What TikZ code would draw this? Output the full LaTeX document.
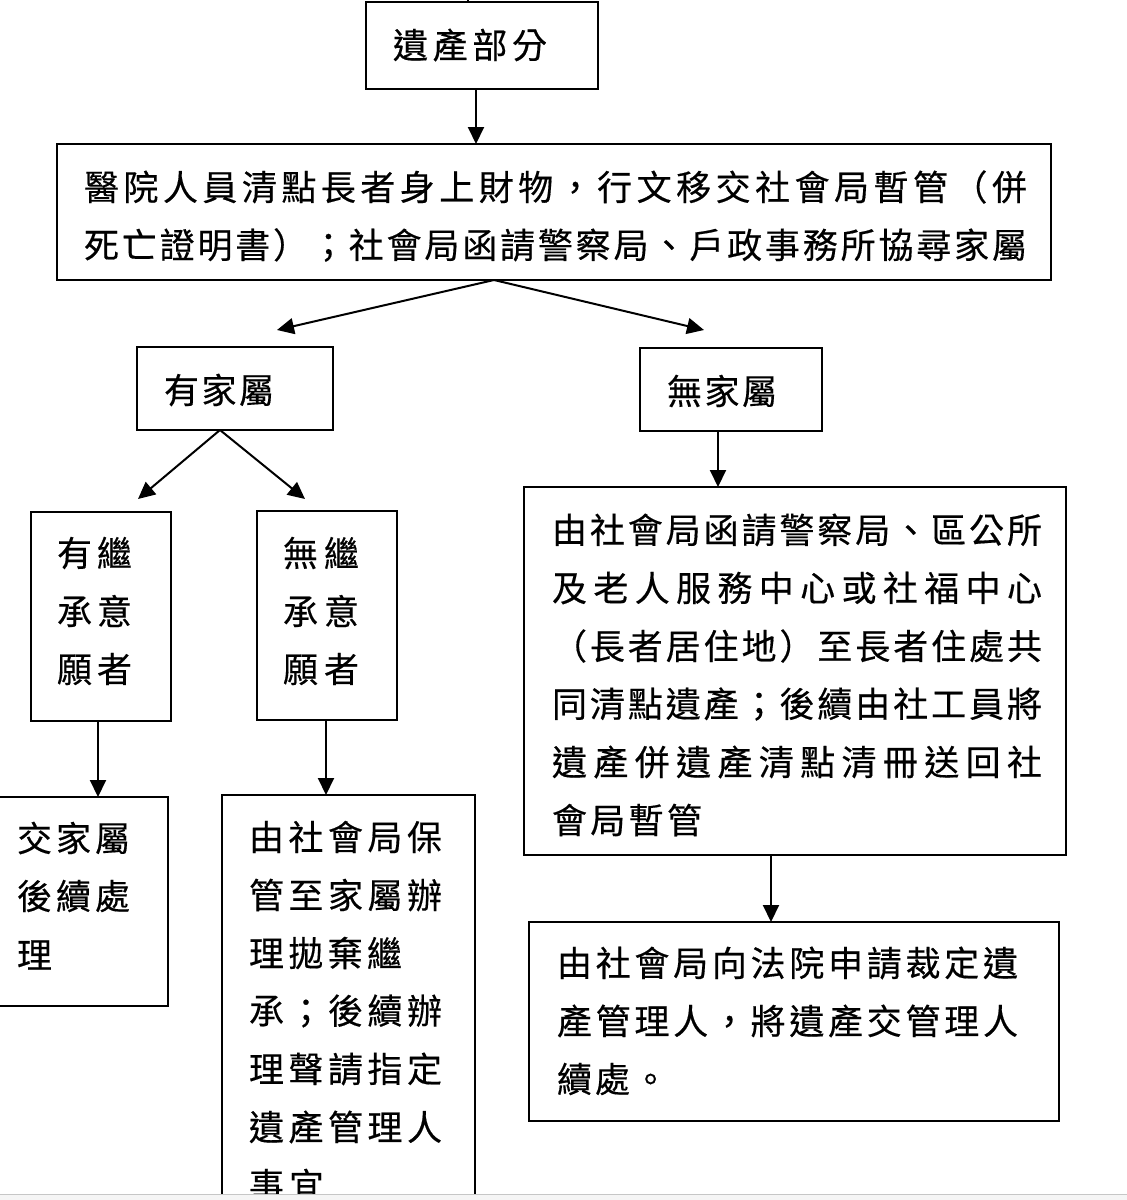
\documentclass[tikz,border=0pt]{standalone}
\usepackage{fontspec}
\newfontfamily\cjk[FakeBold=0.4]{Noto Sans CJK TC}
\usetikzlibrary{arrows.meta}
\newcommand\jl[2]{\hbox to #1{\jlloop#2\relax}}
\def\jlloop#1#2{#1\ifx\relax#2\else\hfill\expandafter\jlloop\fi#2}
\tikzset{
  box/.style={draw, line width=2pt, inner sep=0pt, outer sep=0pt},
  txt/.style={anchor=west, inner sep=0pt, outer sep=0pt, font=\cjk\fontsize{35pt}{35pt}\selectfont},
  arr/.style={line width=2pt, -{Triangle[width=16pt,length=17pt]}},
  plain/.style={line width=2pt}
}
\begin{document}
\begin{tikzpicture}[x=1pt,y=-1pt]
\useasboundingbox (0,0) rectangle (1127,1200);
\clip (0,0) rectangle (1127,1200);
% boxes
\node[box, minimum width=232pt, minimum height=87pt] (b1) at (482,45.5) {};
\node[box, minimum width=994pt, minimum height=136pt] (b2) at (554,212) {};
\node[box, minimum width=196pt, minimum height=83pt] (yjs) at (235,388.5) {};
\node[box, minimum width=182pt, minimum height=83pt] (wjs) at (731,389.5) {};
\node[box, minimum width=140pt, minimum height=209pt] (yjc) at (101,616.5) {};
\node[box, minimum width=140pt, minimum height=209pt] (wjc) at (327,615.5) {};
\node[box, minimum width=170pt, minimum height=209pt] (jjs) at (83,901.5) {};
\node[box, minimum width=253pt, minimum height=465pt] (bg) at (348.5,1027.5) {};
\node[box, minimum width=542pt, minimum height=368pt] (rbig) at (795,671) {};
\node[box, minimum width=530pt, minimum height=199pt] (rlast) at (794,1021.5) {};
% texts
\node[txt] (t1) at (393,45) {\jl{154pt}{遺產部分}};
\node[txt] (t2a) at (84,187) {\jl{943pt}{醫院人員清點長者身上財物，行文移交社會局暫管（併}};
\node[txt] (t2b) at (84,245) {\jl{943pt}{死亡證明書）；社會局函請警察局、戶政事務所協尋家屬}};
\node[txt] (t3) at (164,390) {\jl{110pt}{有家屬}};
\node[txt] (t4) at (667,391) {\jl{110pt}{無家屬}};
\node[txt] (t5a) at (57,553) {\jl{75pt}{有繼}};
\node[txt] (t5b) at (57,611) {\jl{75pt}{承意}};
\node[txt] (t5c) at (57,669) {\jl{75pt}{願者}};
\node[txt] (t6a) at (283,553) {\jl{76pt}{無繼}};
\node[txt] (t6b) at (283,611) {\jl{76pt}{承意}};
\node[txt] (t6c) at (283,669) {\jl{76pt}{願者}};
\node[txt] (t7a) at (17,838) {\jl{113pt}{交家屬}};
\node[txt] (t7b) at (17,896) {\jl{113pt}{後續處}};
\node[txt] (t7c) at (17,955) {理};
\node[txt] (t8a) at (249,837) {\jl{193pt}{由社會局保}};
\node[txt] (t8b) at (249,895) {\jl{193pt}{管至家屬辦}};
\node[txt] (t8c) at (249,953) {\jl{153pt}{理拋棄繼}};
\node[txt] (t8d) at (249,1011) {\jl{193pt}{承；後續辦}};
\node[txt] (t8e) at (249,1069) {\jl{193pt}{理聲請指定}};
\node[txt] (t8f) at (249,1127) {\jl{193pt}{遺產管理人}};
\node[txt] (t8g) at (249,1185) {\jl{75pt}{事宜}};
\node[txt] (t9a) at (552,530) {\jl{490pt}{由社會局函請警察局、區公所}};
\node[txt] (t9b) at (552,588) {\jl{490pt}{及老人服務中心或社福中心}};
\node[txt] (t9c) at (552,646) {\jl{490pt}{（長者居住地）至長者住處共}};
\node[txt] (t9d) at (552,704) {\jl{490pt}{同清點遺產；後續由社工員將}};
\node[txt] (t9e) at (552,762) {\jl{490pt}{遺產併遺產清點清冊送回社}};
\node[txt] (t9f) at (552,820) {\jl{150pt}{會局暫管}};
\node[txt] (t10a) at (557,963) {\jl{461pt}{由社會局向法院申請裁定遺}};
\node[txt] (t10b) at (557,1021) {\jl{461pt}{產管理人，將遺產交管理人}};
\node[txt] (t10c) at (557,1079) {\jl{111pt}{續處。}};
% connectors
\coordinate (top) at (468,-5);
\draw[plain] (b1.north -| top) -- (top);
\draw[arr] ([xshift=-6pt]b1.south) -- ([xshift=-6pt]b1.south |- b2.north);
\coordinate (s1) at ([xshift=-60pt]b2.south);
\draw[arr] (s1) -- ([xshift=42pt,yshift=17pt]yjs.north);
\draw[arr] (s1) -- ([xshift=-27pt,yshift=18pt]wjs.north);
\coordinate (s2) at ([xshift=-15pt]yjs.south);
\draw[arr] (s2) -- ([xshift=37pt,yshift=13pt]yjc.north);
\draw[arr] (s2) -- ([xshift=-22pt,yshift=12pt]wjc.north);
\draw[arr] ([xshift=-3pt]yjc.south) -- ([xshift=-3pt]yjc.south |- jjs.north);
\draw[arr] ([xshift=-1pt]wjc.south) -- ([xshift=-1pt]wjc.south |- bg.north);
\draw[arr] ([xshift=-13pt]wjs.south) -- ([xshift=-13pt]wjs.south |- rbig.north);
\draw[arr] ([xshift=-24pt]rbig.south) -- ([xshift=-24pt]rbig.south |- rlast.north);
% bottom band
\fill[gray!8] (0,1194) rectangle (1127,1200);
\draw[gray!45, line width=1.2pt] (0,1194.5) -- (1127,1194.5);
\end{tikzpicture}
\end{document}
